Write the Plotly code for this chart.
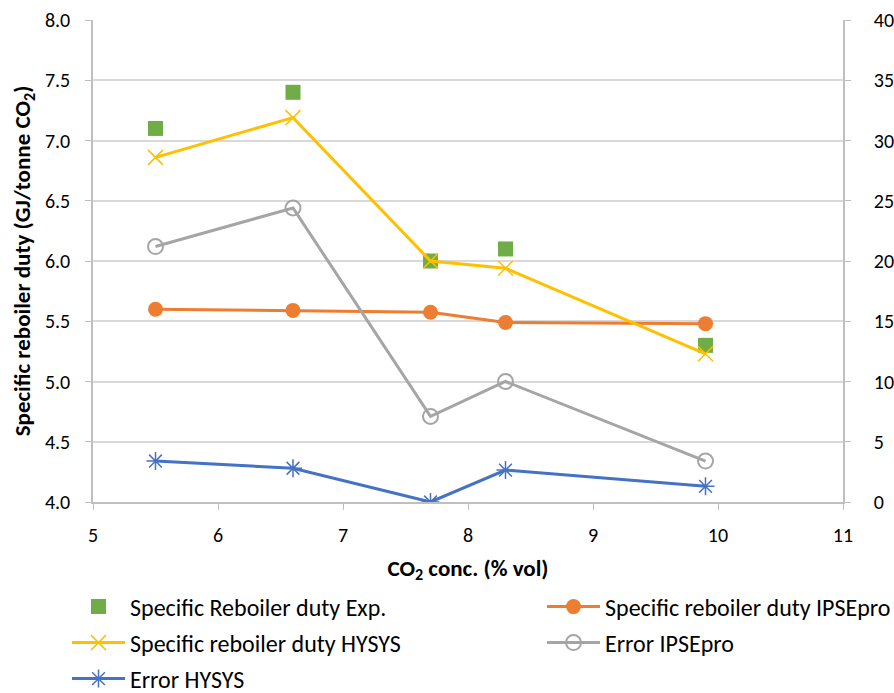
import plotly.graph_objects as go

x_vals = [5.5, 6.6, 7.7, 8.3, 9.9]
exp_duty = [7.1, 7.4, 6.0, 6.1, 5.3]
ipsepro_duty = [5.6, 5.59, 5.575, 5.49, 5.48]
hysys_duty = [6.86, 7.19, 6.0, 5.94, 5.23]
err_ipsepro = [21.2, 24.4, 7.1, 10.0, 3.4]
err_hysys = [3.4, 2.8, 0.0, 2.65, 1.3]

FONT = "Carlito, Lato, sans-serif"
GRID = "#d9d9d9"
AX = "#bfbfbf"
W, H = 894, 693

fig = go.Figure()
fig.add_trace(go.Scatter(x=x_vals, y=exp_duty, mode="markers", name="Specific Reboiler duty Exp.",
                         legend="legend",
                         marker=dict(symbol="square", size=15, color="#70AD47")))
fig.add_trace(go.Scatter(x=x_vals, y=ipsepro_duty, mode="lines+markers", name="Specific reboiler duty IPSEpro",
                         legend="legend2",
                         line=dict(color="#ED7D31", width=3),
                         marker=dict(symbol="circle", size=15, color="#ED7D31")))
fig.add_trace(go.Scatter(x=x_vals, y=hysys_duty, mode="lines+markers", name="Specific reboiler duty HYSYS",
                         legend="legend3",
                         line=dict(color="#FFC000", width=3),
                         marker=dict(symbol="x-thin-open", size=15, color="#FFC000", line=dict(width=1.5, color="#FFC000"))))
fig.add_trace(go.Scatter(x=x_vals, y=err_ipsepro, mode="lines+markers", name="Error IPSEpro", yaxis="y2",
                         legend="legend4",
                         line=dict(color="#A5A5A5", width=3),
                         marker=dict(symbol="circle-open", size=15, color="#A5A5A5", line=dict(width=2, color="#A5A5A5"))))
fig.add_trace(go.Scatter(x=x_vals, y=err_hysys, mode="lines+markers", name="Error HYSYS", yaxis="y2",
                         legend="legend5",
                         line=dict(color="#4472C4", width=3),
                         marker=dict(symbol="asterisk-open", size=15, color="#4472C4", line=dict(width=1.5, color="#4472C4"))))


def leg(xpx, ypx):
    return dict(xref="container", yref="container", x=xpx / W, y=1 - ypx / H,
                xanchor="left", yanchor="middle", orientation="h",
                font=dict(size=24, family=FONT), itemwidth=53, bgcolor="rgba(0,0,0,0)")


fig.update_layout(
    width=W, height=H,
    margin=dict(l=93, r=51, t=20, b=191, autoexpand=False),
    paper_bgcolor="white", plot_bgcolor="white",
    font=dict(family=FONT, size=20, color="#000000"),
    showlegend=True,
    xaxis=dict(range=[5, 11], dtick=1, tick0=5, showgrid=False, zeroline=False,
               showline=True, linecolor=AX, linewidth=1.5, ticks="outside", ticklen=6, tickcolor=AX,
               ticklabelstandoff=8,
               title=dict(text="<b>CO<sub>2</sub> conc. (% vol)</b>", standoff=14, font=dict(size=23))),
    yaxis=dict(range=[4, 8], dtick=0.5, tickformat=".1f", showgrid=True, gridcolor=GRID, gridwidth=1.5,
               zeroline=False, showline=True, linecolor=AX, linewidth=1.5, ticks="outside", ticklen=6, tickcolor=AX,
               ticklabelstandoff=11,
               title=dict(text="<b>Specific reboiler duty (GJ/tonne CO<sub>2</sub>)</b>", standoff=8, font=dict(size=23))),
    yaxis2=dict(range=[0, 40], dtick=5, overlaying="y", side="right", showgrid=False, zeroline=False,
                showline=True, linecolor=AX, linewidth=1.5, ticks="outside", ticklen=6, tickcolor=AX,
                ticklabelstandoff=19),
    legend=leg(67, 607),
    legend2=leg(542, 607),
    legend3=leg(67, 643),
    legend4=leg(542, 643),
    legend5=leg(67, 679),
)

fig.write_html("out.html")
